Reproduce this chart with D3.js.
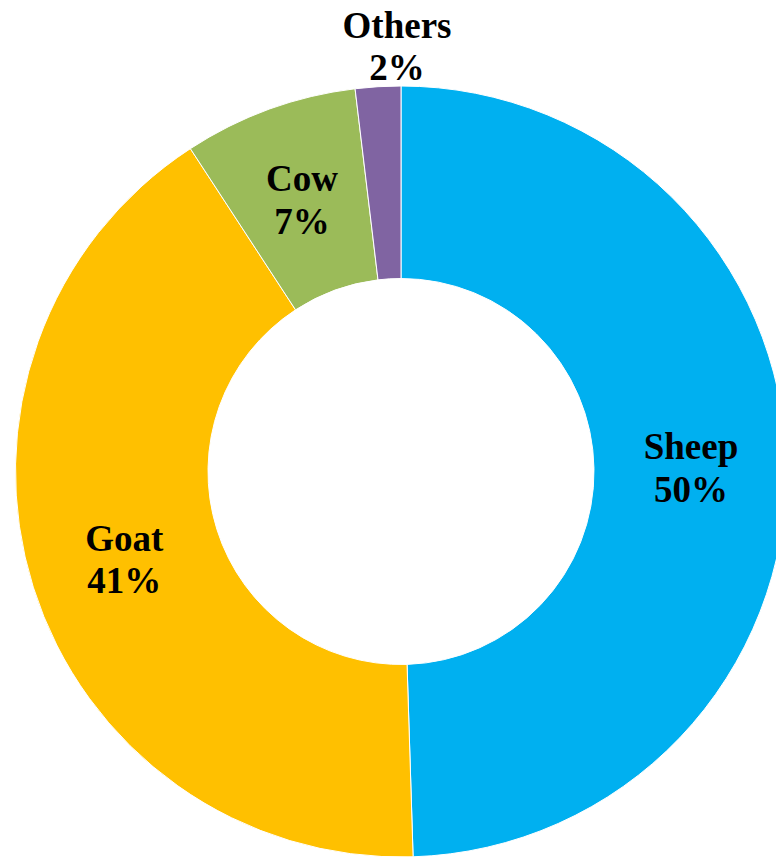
<!DOCTYPE html>
<html><head><meta charset="utf-8">
<script src="https://cdn.jsdelivr.net/npm/d3@7"></script>
<style>html,body{margin:0;padding:0;background:#fff;overflow:hidden}</style>
</head><body>
<svg id="chart" width="776" height="858"></svg>
<script>
const categories = ["Sheep", "Goat", "Cow", "Others"];
const values = [49.5, 41.3, 7.3, 1.9];
const labels = ["50%", "41%", "7%", "2%"];
const colors = ["#00B0F0", "#FFC000", "#9BBB59", "#8064A2"];

const svg = d3.select("#chart");
const cx = 401, cy = 471.5, outerR = 385.5, innerR = 193;
const g = svg.append("g").attr("transform", `translate(${cx},${cy})`);

const pie = d3.pie().sort(null).value(d => d);
const arcs = pie(values);
const arc = d3.arc().innerRadius(innerR).outerRadius(outerR);

g.selectAll("path").data(arcs).enter().append("path")
  .attr("d", arc)
  .attr("fill", (d, i) => colors[i])
  .attr("stroke", "#fff").attr("stroke-width", 1);

const labelArc = d3.arc().innerRadius(290).outerRadius(290);
const lab = g.selectAll("text.lab").data(arcs).enter().append("text")
  .attr("class", "lab")
  .attr("text-anchor", "middle")
  .attr("font-family", "Liberation Serif")
  .attr("font-weight", "bold")
  .attr("font-size", 37)
  .attr("fill", "#000")
  .attr("transform", (d, i) => {
    let [x, y] = labelArc.centroid(d);
    if (i === 3) { x = -4; y = -426; }
    return `translate(${x},${y - 4})`;
  });
lab.append("tspan").attr("x", 0).attr("dy", "-0.1em").text((d, i) => categories[i]);
lab.append("tspan").attr("x", 0).attr("dy", "1.15em").text((d, i) => labels[i]);
</script>
</body></html>
